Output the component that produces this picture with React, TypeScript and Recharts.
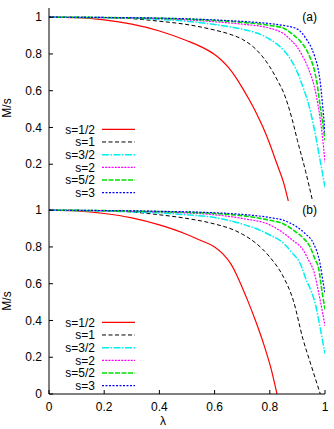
import React from "react";
import { LineChart, Line, XAxis, YAxis, Legend, ReferenceDot } from "recharts";

type Pt = [number, number];

const LAMBDA_TICKS = [0, 0.2, 0.4, 0.6, 0.8, 1];
const M_TICKS_A = [0.2, 0.4, 0.6, 0.8, 1];
const M_TICKS_B = [0, 0.2, 0.4, 0.6, 0.8, 1];
const SPIN_LABELS = ["s=1/2", "s=1", "s=3/2", "s=2", "s=5/2", "s=3"];

// panel (a): [lambda, M/s]
const A_S1_2: Pt[] = [[0, 1], [0.1, 0.997], [0.2, 0.985], [0.3, 0.962], [0.4, 0.925], [0.5, 0.872], [0.55, 0.84], [0.6, 0.797], [0.625, 0.766], [0.65, 0.727], [0.675, 0.677], [0.7, 0.617], [0.725, 0.552], [0.75, 0.482], [0.775, 0.402], [0.8, 0.31], [0.825, 0.205], [0.85, 0.1], [0.867, 0]];
const A_S1: Pt[] = [[0, 1], [0.2, 0.998], [0.3, 0.992], [0.4, 0.978], [0.5, 0.96], [0.6, 0.93], [0.65, 0.91], [0.7, 0.88], [0.75, 0.825], [0.8, 0.73], [0.83, 0.65], [0.85, 0.59], [0.88, 0.45], [0.9, 0.33], [0.93, 0.16], [0.955, 0]];
const A_S3_2: Pt[] = [[0, 1], [0.3, 0.995], [0.4, 0.988], [0.5, 0.978], [0.6, 0.96], [0.7, 0.935], [0.75, 0.915], [0.8, 0.88], [0.85, 0.82], [0.88, 0.76], [0.9, 0.7], [0.92, 0.62], [0.94, 0.53], [0.96, 0.4], [0.98, 0.24], [1, 0.075]];
const A_S2: Pt[] = [[0, 1], [0.4, 0.992], [0.6, 0.975], [0.7, 0.962], [0.8, 0.94], [0.85, 0.91], [0.88, 0.87], [0.9, 0.835], [0.92, 0.785], [0.94, 0.72], [0.96, 0.63], [0.975, 0.52], [0.99, 0.36], [1, 0.21]];
const A_S5_2: Pt[] = [[0, 1], [0.4, 0.994], [0.6, 0.982], [0.7, 0.972], [0.8, 0.955], [0.85, 0.94], [0.88, 0.91], [0.91, 0.87], [0.93, 0.83], [0.946, 0.78], [0.96, 0.72], [0.97, 0.65], [0.982, 0.52], [0.992, 0.42], [1, 0.33]];
const A_S3: Pt[] = [[0, 1], [0.4, 0.995], [0.6, 0.985], [0.7, 0.977], [0.8, 0.965], [0.85, 0.955], [0.9, 0.935], [0.935, 0.875], [0.952, 0.83], [0.964, 0.78], [0.975, 0.72], [0.982, 0.655], [0.992, 0.51], [1, 0.37]];

// panel (b)
const B_S1_2: Pt[] = [[0, 1], [0.1, 0.996], [0.2, 0.982], [0.3, 0.958], [0.4, 0.92], [0.5, 0.868], [0.55, 0.835], [0.6, 0.8], [0.63, 0.762], [0.66, 0.705], [0.68, 0.648], [0.7, 0.58], [0.72, 0.508], [0.75, 0.392], [0.78, 0.262], [0.805, 0.135], [0.826, 0]];
const B_S1: Pt[] = [[0, 1], [0.2, 0.997], [0.3, 0.99], [0.4, 0.975], [0.5, 0.955], [0.6, 0.925], [0.67, 0.892], [0.7, 0.87], [0.75, 0.82], [0.8, 0.745], [0.85, 0.635], [0.885, 0.51], [0.92, 0.3], [0.95, 0.155], [0.983, 0]];
const B_S3_2: Pt[] = [[0, 1], [0.4, 0.985], [0.5, 0.975], [0.6, 0.96], [0.7, 0.925], [0.75, 0.9], [0.8, 0.865], [0.85, 0.82], [0.88, 0.77], [0.91, 0.71], [0.935, 0.61], [0.95, 0.56], [0.965, 0.49], [0.98, 0.38], [0.99, 0.3], [1, 0.22]];
const B_S2: Pt[] = [[0, 1], [0.4, 0.99], [0.6, 0.975], [0.7, 0.955], [0.8, 0.92], [0.85, 0.875], [0.88, 0.84], [0.92, 0.785], [0.94, 0.73], [0.96, 0.665], [0.98, 0.53], [1, 0.37]];
const B_S5_2: Pt[] = [[0, 1], [0.4, 0.992], [0.6, 0.982], [0.7, 0.97], [0.8, 0.945], [0.85, 0.925], [0.885, 0.892], [0.92, 0.85], [0.946, 0.8], [0.965, 0.73], [0.976, 0.69], [0.99, 0.55], [1, 0.46]];
const B_S3: Pt[] = [[0, 1], [0.4, 0.994], [0.6, 0.986], [0.7, 0.977], [0.8, 0.96], [0.85, 0.945], [0.897, 0.91], [0.93, 0.87], [0.958, 0.82], [0.982, 0.71], [0.994, 0.6], [1, 0.55]];

const LINE_STYLES = [
  { color: "#ff0000", dash: undefined, width: 1.2 },
  { color: "#000000", dash: "4 2.5", width: 1 },
  { color: "#00f0f0", dash: "7 1.5 1.5 1.5", width: 1.5 },
  { color: "#ff00ff", dash: "2 1.2", width: 1.2 },
  { color: "#00e000", dash: "5 1.5", width: 1.6 },
  { color: "#0000ff", dash: "2 1.5", width: 1.2 },
];

const FONT = "'Liberation Sans', Arial, sans-serif";
const tickFont = { fill: "#000", fontSize: 12, fontFamily: FONT };
const border = { stroke: "#000", strokeWidth: 1 };

const toRows = (pts: Pt[]) => pts.map(([x, y]) => ({ x, y }));

function renderLegend() {
  return (
    <svg width={140} height={80} style={{ display: "block" }}>
      {SPIN_LABELS.map((name, i) => {
        const st = LINE_STYLES[i];
        const y = 9.3 + i * 12.68;
        return (
          <g key={name}>
            <text x={95} y={y} dy="0.36em" textAnchor="end" fontSize={12} fontFamily={FONT} fill="#000">
              {name}
            </text>
            <line x1={102} x2={135} y1={y} y2={y} stroke={st.color} strokeWidth={st.width} strokeDasharray={st.dash} />
          </g>
        );
      })}
    </svg>
  );
}

function msLabel(props: any) {
  const vb = props.viewBox;
  const cx = vb.x + 7;
  const cy = vb.y + vb.height / 2 + 3.5;
  return (
    <text x={cx} y={cy} transform={`rotate(-90 ${cx} ${cy})`} textAnchor="middle" dy="0.36em" fontSize={12} fontFamily={FONT} fill="#000">
      M/s
    </text>
  );
}

function lambdaLabel() {
  return (
    <text x={163} y={224} textAnchor="middle" fontSize={12} fontFamily={FONT} fill="#000">
      λ
    </text>
  );
}

function Panel({ series, yTicks, tag, bottomAxis }: { series: Pt[][]; yTicks: number[]; tag: string; bottomAxis: boolean }) {
  const height = bottomAxis ? 228 : 202;
  const margin = bottomAxis ? { top: 0, right: 9, bottom: 0, left: 0 } : { top: 8, right: 9, bottom: 1, left: 0 };
  return (
    <LineChart width={334} height={height} margin={margin}>
      <XAxis
        dataKey="x"
        type="number"
        domain={[0, 1]}
        ticks={LAMBDA_TICKS}
        allowDataOverflow
        height={bottomAxis ? 35 : 0}
        tick={bottomAxis ? tickFont : false}
        tickSize={-4}
        tickMargin={12}
        axisLine={border}
        tickLine={border}
        tickFormatter={(v: number) => String(v)}
        label={bottomAxis ? lambdaLabel : undefined}
      />
      <XAxis xAxisId="top" orientation="top" type="number" domain={[0, 1]} ticks={LAMBDA_TICKS} height={0} tick={false} tickSize={-4} axisLine={border} tickLine={border} />
      <YAxis
        type="number"
        domain={[0, 1.05]}
        ticks={yTicks}
        allowDataOverflow
        width={49}
        tick={tickFont}
        tickSize={-4}
        tickMargin={11}
        axisLine={border}
        tickLine={border}
        tickFormatter={(v: number) => String(v)}
        label={msLabel}
      />
      <YAxis yAxisId="right" orientation="right" type="number" domain={[0, 1.05]} ticks={M_TICKS_B} width={0} tick={false} tickSize={-4} axisLine={border} tickLine={border} />
      {series.map((pts, i) => (
        <Line
          key={SPIN_LABELS[i]}
          name={SPIN_LABELS[i]}
          data={toRows(pts)}
          dataKey="y"
          type="monotone"
          stroke={LINE_STYLES[i].color}
          strokeWidth={LINE_STYLES[i].width}
          strokeDasharray={LINE_STYLES[i].dash}
          dot={false}
          activeDot={false}
          isAnimationActive={false}
        />
      ))}
      <ReferenceDot
        x={1}
        y={1}
        r={0}
        fill="none"
        stroke="none"
        label={{ value: tag, position: "left", offset: 8, fontSize: 12, fontFamily: FONT, fill: "#000" }}
      />
      <Legend
        layout="vertical"
        align="center"
        verticalAlign="middle"
        content={renderLegend}
        wrapperStyle={{ left: 0, top: bottomAxis ? 112 : 120, width: 140, height: 80 }}
      />
    </LineChart>
  );
}

export default function App() {
  return (
    <div style={{ position: "relative", width: 334, height: 429, background: "#fff", overflow: "hidden" }}>
      <style>{`body{margin:0}`}</style>
      <div style={{ position: "absolute", left: 0, top: 0 }}>
        <Panel series={[A_S1_2, A_S1, A_S3_2, A_S2, A_S5_2, A_S3]} yTicks={M_TICKS_A} tag="(a)" bottomAxis={false} />
      </div>
      <div style={{ position: "absolute", left: 0, top: 201 }}>
        <Panel series={[B_S1_2, B_S1, B_S3_2, B_S2, B_S5_2, B_S3]} yTicks={M_TICKS_B} tag="(b)" bottomAxis={true} />
      </div>
    </div>
  );
}
